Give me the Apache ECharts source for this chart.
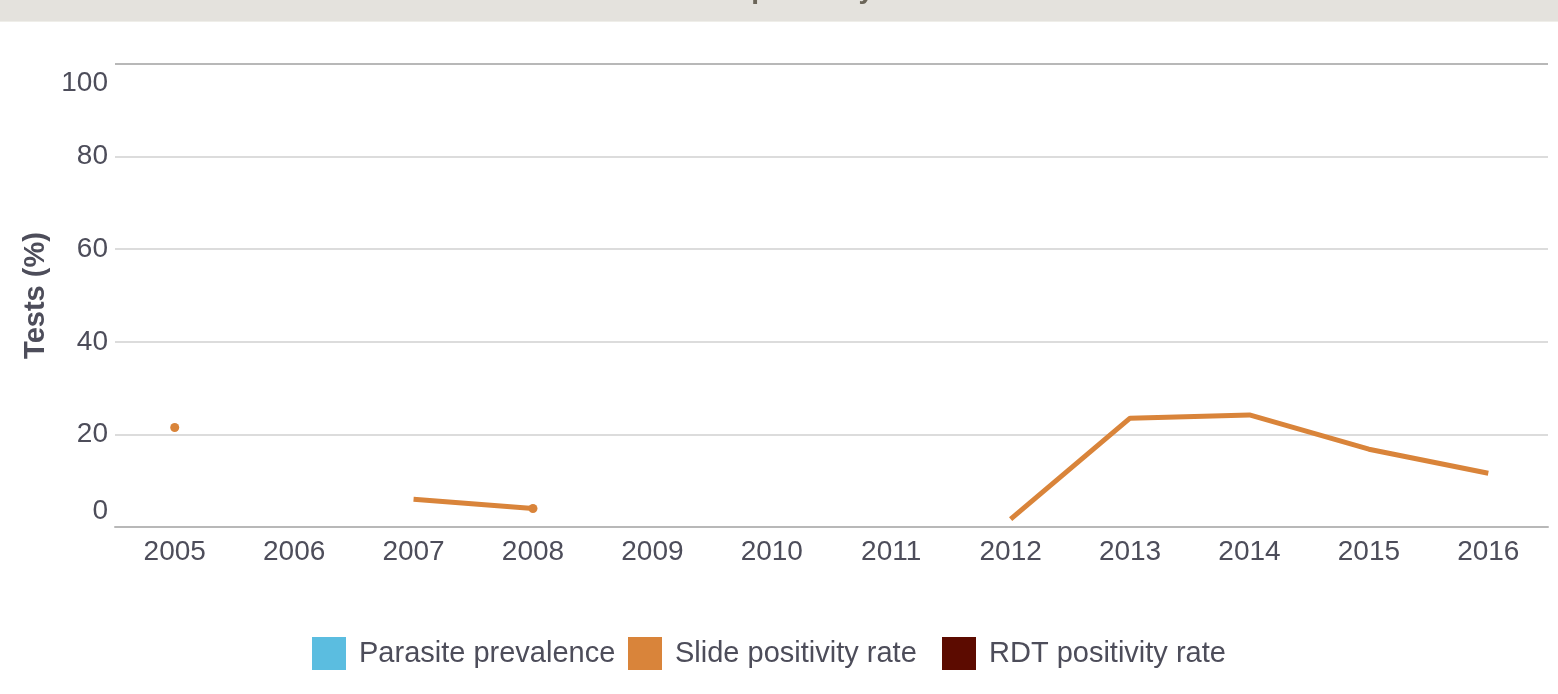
<!DOCTYPE html>
<html>
<head>
<meta charset="utf-8">
<script src="https://cdn.jsdelivr.net/npm/echarts@6/dist/echarts.min.js"></script>
<style>
html,body{margin:0;padding:0;background:#fff;}
#chart{width:1558px;height:694px;}
</style>
</head>
<body>
<div id="chart"></div>
<script>
const years = ['2005','2006','2007','2008','2009','2010','2011','2012','2013','2014','2015','2016'];
const parasitePrevalence = [null,null,null,null,null,null,null,null,null,null,null,null];
const slidePositivity = [21.5,null,6.0,4.0,null,null,null,1.7,23.5,24.2,16.8,11.6];
const rdtPositivity = [null,null,null,null,null,null,null,null,null,null,null,null];
const yTicks = [0,20,40,60,80,100];
const seriesNames = ['Parasite prevalence', 'Slide positivity rate', 'RDT positivity rate'];
const markerYears = ['2005','2008'];

const textColor = '#4d4d5a';
const font = 'Liberation Sans, Arial, Helvetica, sans-serif';
const legendLefts = [312, 628, 942];

const chart = echarts.init(document.getElementById('chart'));
chart.setOption({
  animation: false,
  textStyle: { fontFamily: font },
  graphic: [
    { type: 'rect', left: 0, top: 0, shape: { width: 1558, height: 21 }, style: { fill: '#e4e2dd' } },
    { type: 'rect', left: 0, top: 21, shape: { width: 1558, height: 1 }, style: { fill: '#efeee9' } },
    { type: 'text', x: 781, y: -10, style: { text: 'Test positivity', font: 'bold 28px ' + font, fill: '#6b6558', align: 'center', verticalAlign: 'middle' } }
  ],
  grid: { left: 115, right: 10, top: 64, bottom: 167, containLabel: false },
  legend: seriesNames.map((n, i) => ({
    left: legendLefts[i], top: 637, padding: 0,
    icon: 'rect', itemWidth: 34, itemHeight: 33, itemGap: 15,
    textStyle: { fontSize: 29, color: textColor, fontFamily: font, padding: [3, 0, 0, 8] },
    data: [n]
  })),
  xAxis: {
    type: 'category', data: years, boundaryGap: true,
    axisLine: { lineStyle: { color: '#b8b8b8', width: 2 } },
    axisTick: { show: false },
    axisLabel: { fontSize: 28, color: textColor, margin: 11, fontFamily: font }
  },
  yAxis: {
    type: 'value', min: 0, max: 100, interval: 20,
    name: 'Tests (%)', nameLocation: 'middle', nameGap: 58,
    nameTextStyle: { fontSize: 29, fontWeight: 'bold', color: textColor, fontFamily: font },
    axisLine: { show: false }, axisTick: { show: false },
    splitLine: { lineStyle: { color: ['#b8b8b8','#dcdcdc','#dcdcdc','#dcdcdc','#dcdcdc','#b8b8b8'], width: 2 } },
    axisLabel: {
      fontSize: 28, color: textColor, margin: 7, fontFamily: font,
      formatter: function (v) {
        if (v === yTicks[yTicks.length - 1]) return '{top|' + v + '}';
        if (v === yTicks[0]) return '{bot|' + v + '}';
        return String(v);
      },
      rich: {
        top: { fontSize: 28, color: textColor, fontFamily: font, padding: [38, 0, 0, 0] },
        bot: { fontSize: 28, color: textColor, fontFamily: font, padding: [0, 0, 32, 0] }
      }
    }
  },
  series: [
    { name: seriesNames[0], type: 'line', data: parasitePrevalence, itemStyle: { color: '#5bbde0' }, lineStyle: { width: 5 }, showSymbol: false },
    {
      name: seriesNames[1], type: 'line',
      data: slidePositivity.map((v, i) => ({
        value: v,
        symbol: markerYears.indexOf(years[i]) >= 0 ? 'circle' : 'none'
      })),
      itemStyle: { color: '#d9843a' }, lineStyle: { width: 5, color: '#d9843a' },
      symbolSize: 9, connectNulls: false
    },
    { name: seriesNames[2], type: 'line', data: rdtPositivity, itemStyle: { color: '#5c0b00' }, lineStyle: { width: 5 }, showSymbol: false }
  ]
});
</script>
</body>
</html>
